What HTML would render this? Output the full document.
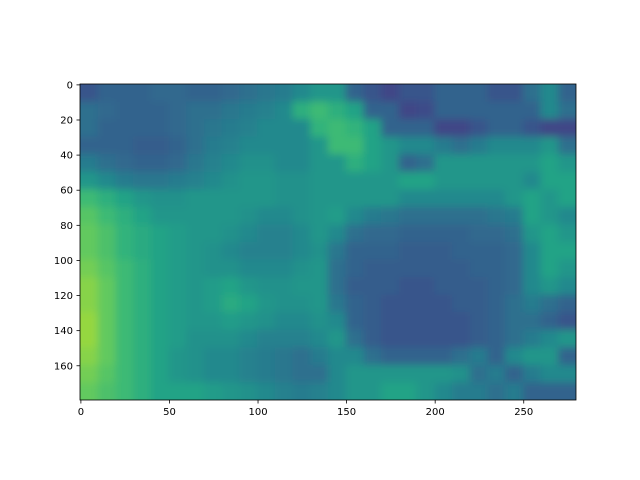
<!DOCTYPE html>
<html><head><meta charset="utf-8"><style>
html,body{margin:0;padding:0;background:#fff;width:640px;height:480px;overflow:hidden}
text{font-family:"DejaVu Sans","Liberation Sans",sans-serif;font-size:10px;fill:#000}
</style></head><body>
<svg id="chart" width="640" height="480">
<defs>
<clipPath id="clip"><rect x="80" y="84" width="496" height="316"/></clipPath>
<filter id="soft" x="-0.1" y="-0.1" width="1.2" height="1.2"><feGaussianBlur stdDeviation="4"/></filter>
</defs>
<g id="img" clip-path="url(#clip)"><g id="cells" filter="url(#soft)"></g></g>
<rect x="80" y="84" width="496" height="316" fill="none" stroke="#000" stroke-width="0.8"/>
<g id="axes"></g>
</svg>
<script>
const xTicks=[0,50,100,150,200,250];
const yTicks=[0,20,40,60,80,100,120,140,160];
const imgW=280, imgH=180, cell=10;
const row0=[0.25,0.3,0.3,0.3,0.32,0.32,0.3,0.3,0.32,0.35,0.38,0.4,0.45,0.5,0.5,0.3,0.25,0.2,0.25,0.25,0.3,0.3,0.3,0.25,0.25,0.35,0.45,0.3];
const row1=[0.35,0.32,0.3,0.3,0.3,0.32,0.35,0.35,0.38,0.4,0.42,0.45,0.6,0.65,0.6,0.55,0.3,0.3,0.2,0.22,0.3,0.3,0.3,0.3,0.3,0.3,0.45,0.35];
const row2=[0.35,0.3,0.3,0.3,0.3,0.32,0.35,0.38,0.4,0.42,0.45,0.45,0.45,0.62,0.65,0.62,0.55,0.3,0.3,0.3,0.2,0.2,0.25,0.3,0.3,0.25,0.2,0.2];
const row3=[0.3,0.3,0.3,0.28,0.28,0.3,0.35,0.4,0.42,0.45,0.45,0.45,0.45,0.5,0.65,0.65,0.55,0.5,0.45,0.45,0.4,0.35,0.4,0.45,0.45,0.45,0.5,0.35];
const row4=[0.4,0.35,0.32,0.3,0.3,0.32,0.38,0.42,0.45,0.48,0.48,0.45,0.45,0.5,0.5,0.6,0.55,0.5,0.3,0.35,0.5,0.5,0.5,0.5,0.5,0.5,0.55,0.5];
const row5=[0.5,0.45,0.4,0.38,0.38,0.4,0.42,0.45,0.48,0.5,0.5,0.48,0.48,0.5,0.5,0.5,0.5,0.5,0.55,0.55,0.5,0.5,0.5,0.5,0.5,0.45,0.55,0.55];
const row6=[0.65,0.6,0.55,0.5,0.48,0.48,0.5,0.5,0.5,0.5,0.5,0.48,0.48,0.5,0.5,0.5,0.5,0.5,0.45,0.45,0.45,0.45,0.45,0.45,0.5,0.55,0.5,0.55];
const row7=[0.7,0.65,0.6,0.55,0.5,0.5,0.5,0.5,0.5,0.48,0.45,0.45,0.48,0.5,0.52,0.45,0.4,0.38,0.35,0.35,0.35,0.35,0.35,0.38,0.4,0.55,0.5,0.45];
const row8=[0.72,0.68,0.62,0.58,0.55,0.52,0.5,0.5,0.48,0.45,0.42,0.42,0.45,0.5,0.45,0.35,0.32,0.32,0.3,0.3,0.3,0.3,0.32,0.32,0.35,0.5,0.55,0.5];
const row9=[0.72,0.68,0.62,0.58,0.55,0.52,0.5,0.48,0.45,0.42,0.42,0.42,0.45,0.48,0.38,0.3,0.3,0.3,0.28,0.28,0.28,0.3,0.3,0.3,0.32,0.45,0.55,0.55];
const row10=[0.75,0.7,0.65,0.6,0.55,0.52,0.5,0.48,0.48,0.45,0.45,0.45,0.48,0.5,0.35,0.3,0.28,0.28,0.28,0.28,0.28,0.28,0.3,0.3,0.32,0.45,0.55,0.5];
const row11=[0.78,0.72,0.65,0.6,0.55,0.52,0.5,0.52,0.55,0.5,0.48,0.48,0.5,0.5,0.35,0.28,0.28,0.28,0.25,0.25,0.28,0.28,0.28,0.3,0.32,0.45,0.5,0.45];
const row12=[0.78,0.72,0.65,0.6,0.55,0.52,0.5,0.52,0.58,0.55,0.5,0.48,0.48,0.5,0.38,0.3,0.28,0.25,0.25,0.25,0.25,0.28,0.28,0.3,0.35,0.4,0.35,0.3];
const row13=[0.8,0.72,0.65,0.6,0.55,0.52,0.5,0.5,0.52,0.5,0.48,0.45,0.45,0.48,0.45,0.3,0.28,0.25,0.25,0.25,0.25,0.25,0.28,0.3,0.35,0.35,0.3,0.25];
const row14=[0.8,0.72,0.65,0.6,0.55,0.52,0.48,0.48,0.48,0.45,0.42,0.42,0.42,0.45,0.5,0.35,0.28,0.25,0.25,0.25,0.25,0.25,0.28,0.3,0.35,0.4,0.45,0.5];
const row15=[0.78,0.72,0.65,0.6,0.55,0.5,0.48,0.45,0.45,0.42,0.4,0.38,0.35,0.4,0.45,0.45,0.35,0.3,0.3,0.3,0.3,0.35,0.4,0.3,0.45,0.5,0.5,0.3];
const row16=[0.75,0.7,0.65,0.6,0.55,0.5,0.48,0.45,0.45,0.42,0.4,0.38,0.35,0.35,0.45,0.5,0.5,0.5,0.5,0.5,0.5,0.48,0.35,0.4,0.3,0.4,0.45,0.45];
const row17=[0.72,0.68,0.65,0.6,0.55,0.55,0.55,0.52,0.5,0.48,0.45,0.42,0.4,0.42,0.45,0.5,0.5,0.55,0.55,0.5,0.45,0.4,0.4,0.35,0.4,0.3,0.3,0.3];
const rows=[row0,row1,row2,row3,row4,row5,row6,row7,row8,row9,row10,row11,row12,row13,row14,row15,row16,row17];

const X0=80,X1=576,Y0=84,Y1=400;
const sx=v=>X0+(v+0.5)*(X1-X0)/imgW;
const sy=v=>Y0+(v+0.5)*(Y1-Y0)/imgH;
const vir=[[68,1,84],[72,40,120],[62,74,137],[49,104,142],[38,130,142],[31,158,137],[53,183,121],[109,205,89],[180,222,44],[253,231,37]];
function cmap(t){t=Math.max(0,Math.min(1,t*1.05));const p=t*9,i=Math.min(8,Math.floor(p)),f=p-i;const a=vir[i],b=vir[i+1];
return 'rgb('+a.map((v,k)=>Math.round(v+(b[k]-v)*f)).join(',')+')';}
const NS='http://www.w3.org/2000/svg';
const cells=document.getElementById('cells');
const nR=rows.length,nC=rows[0].length,pad=14;
rows.forEach((r,ri)=>r.forEach((v,ci)=>{
 const rc=document.createElementNS(NS,'rect');
 let x=sx(ci*cell-0.5),y=sy(ri*cell-0.5);
 let x2=sx((ci+1)*cell-0.5)+0.5,y2=sy((ri+1)*cell-0.5)+0.5;
 if(ci===0)x-=pad; if(ri===0)y-=pad; if(ci===nC-1)x2+=pad; if(ri===nR-1)y2+=pad;
 rc.setAttribute('x',x);rc.setAttribute('y',y);
 rc.setAttribute('width',x2-x);rc.setAttribute('height',y2-y);
 rc.setAttribute('fill',cmap(v));
 
 
 cells.appendChild(rc);}));
const axes=document.getElementById('axes');
xTicks.forEach(t=>{
 const x=sx(t);
 const l=document.createElementNS(NS,'line');
 l.setAttribute('x1',x);l.setAttribute('x2',x);l.setAttribute('y1',Y1);l.setAttribute('y2',Y1+3.5);l.setAttribute('stroke','#000');l.setAttribute('stroke-width','0.8');
 
 
 axes.appendChild(l);
 const tx=document.createElementNS(NS,'text');
 tx.setAttribute('x',x);tx.setAttribute('y',Y1+15);tx.setAttribute('text-anchor','middle');tx.textContent=t;
 
 
 axes.appendChild(tx);});
yTicks.forEach(t=>{
 const y=sy(t);
 const l=document.createElementNS(NS,'line');
 l.setAttribute('x1',X0-3.5);l.setAttribute('x2',X0);l.setAttribute('y1',y);l.setAttribute('y2',y);l.setAttribute('stroke','#000');l.setAttribute('stroke-width','0.8');
 
 
 axes.appendChild(l);
 const tx=document.createElementNS(NS,'text');
 tx.setAttribute('x',X0-7);tx.setAttribute('y',y+3.5);tx.setAttribute('text-anchor','end');tx.textContent=t;
 
 
 axes.appendChild(tx);});
</script>
</body></html>
